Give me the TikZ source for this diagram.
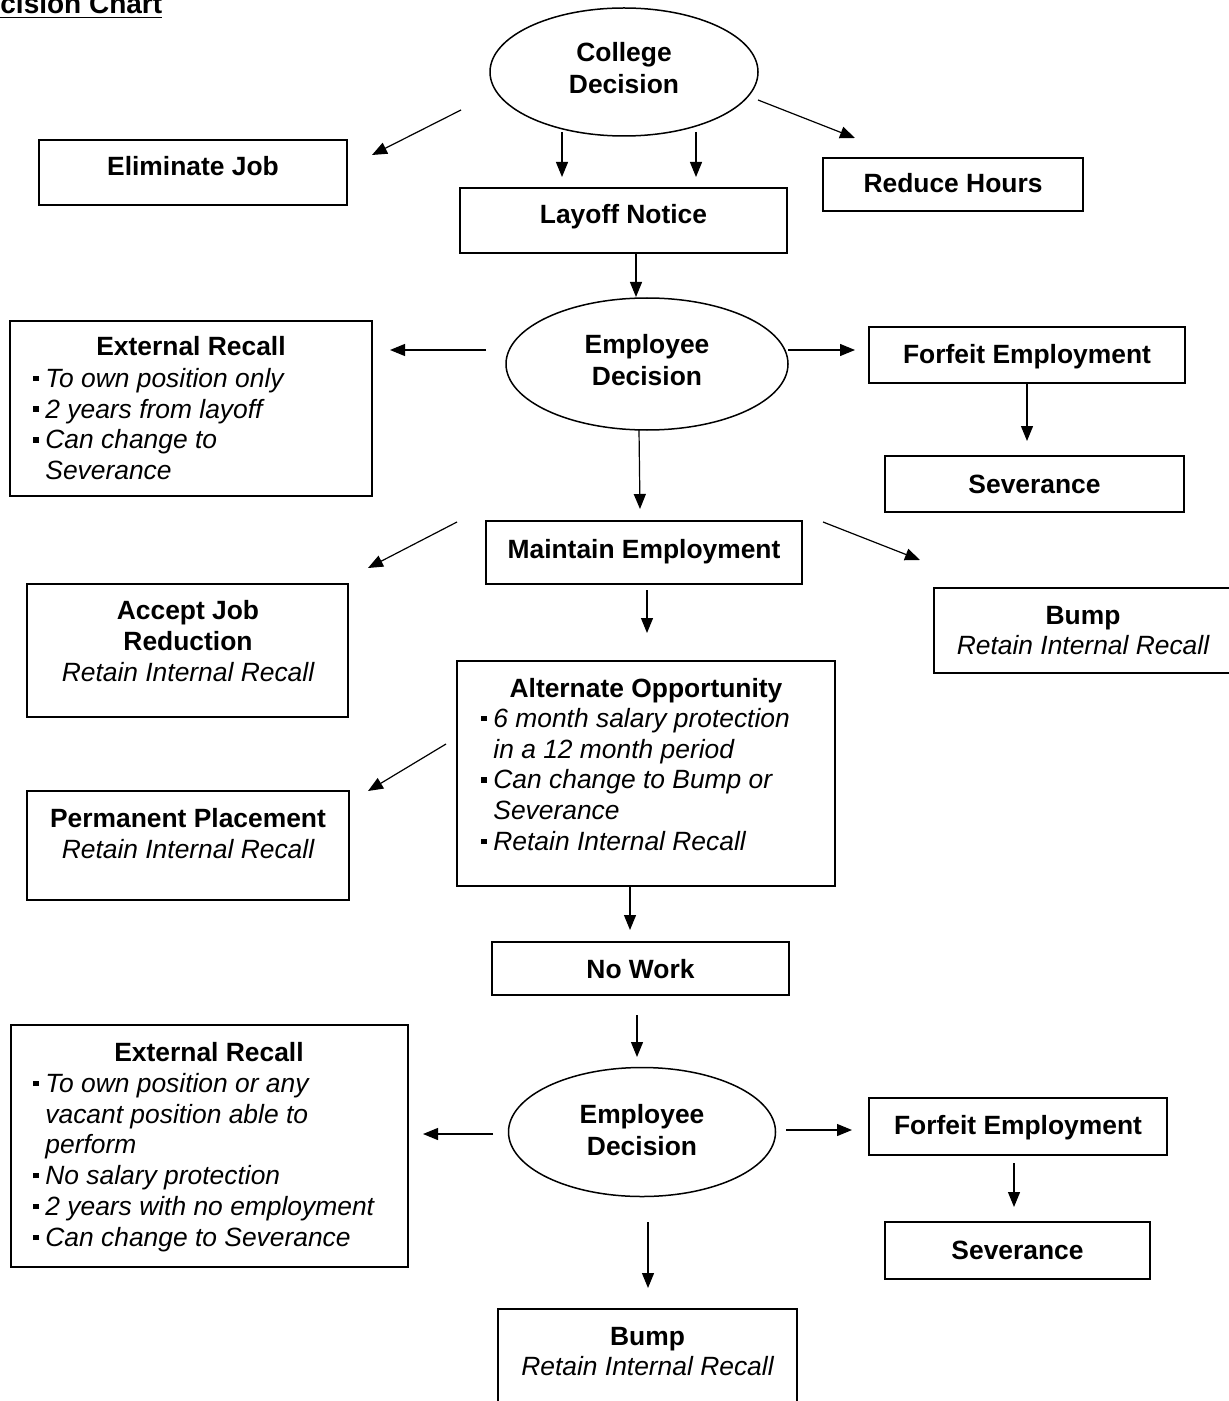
\documentclass[tikz,border=0pt]{standalone}
\usepackage{fontspec}
\setmainfont{Liberation Sans}
\usetikzlibrary{arrows.meta,shapes.geometric}
\newcommand\sqb{\makebox[6pt][l]{\raisebox{0.24em}{\rule{2.7pt}{2.7pt}}}}
\newcommand\contind{\hspace*{6pt}}
\begin{document}
\begin{tikzpicture}[x=0.5pt,y=-0.5pt,
 box/.style={draw, line width=0.75pt, inner sep=0, rectangle},
 oval/.style={draw, ellipse, line width=0.75pt, inner sep=0},
 ovt/.style={inner sep=0, align=center, font=\fontsize{13.2}{15.6}\selectfont\bfseries},
 hd/.style={anchor=base, inner sep=0, font=\fontsize{13.2}{15.4}\selectfont\bfseries},
 itx/.style={anchor=base, inner sep=0, font=\fontsize{13.2}{15.4}\selectfont\itshape},
 lst/.style={anchor=north west, inner sep=0, align=left, font=\fontsize{13.2}{15.4}\selectfont\itshape},
 arr/.style={-{Triangle[length=7.5pt,width=6pt]}, line width=0.6pt}]
\useasboundingbox (0,0) rectangle (1228,1401);

% title
\node[anchor=base west, inner sep=0, font=\fontsize{14}{16}\selectfont\bfseries] (title) at (0,14) {\underline{cision Chart}};

% top level
\node[oval, minimum width=134pt, minimum height=64pt] (college) at (624,72) {};
\node[ovt] (collegeT) at (624,68) {College\\Decision};
\node[box, minimum width=154pt, minimum height=32.5pt] (elim) at (193,172.5) {};
\node[hd] (elimT) at (193,176) {Eliminate Job};
\node[box, minimum width=163.5pt, minimum height=32.5pt] (layoff) at (623.5,220.5) {};
\node[hd] (layoffT) at (623.5,224) {Layoff Notice};
\node[box, minimum width=130pt, minimum height=26.5pt] (reduce) at (953,184.5) {};
\node[hd] (reduceT) at (953,193) {Reduce Hours};

% employee decision 1
\node[oval, minimum width=141pt, minimum height=66pt] (emp1) at (647,364) {};
\node[ovt] (emp1T) at (647,360) {Employee\\Decision};
\node[box, minimum width=181pt, minimum height=87.5pt] (ext1) at (191,408.5) {};
\node[hd] (ext1T) at (191,356) {External Recall};
\node[lst] (ext1L) at (33,365.4) {\strut\sqb To own position only\\\sqb 2 years from layoff\\\sqb Can change to\\\contind Severance};
\node[box, minimum width=158pt, minimum height=28pt] (forf1) at (1027,355) {};
\node[hd] (forf1T) at (1027,364) {Forfeit Employment};
\node[box, minimum width=149.5pt, minimum height=28pt] (sev1) at (1034.5,484) {};
\node[hd] (sev1T) at (1034.5,493) {Severance};

% maintain
\node[box, minimum width=158pt, minimum height=31.5pt] (maint) at (644,552.5) {};
\node[hd] (maintT) at (644,558) {Maintain Employment};
\node[box, minimum width=149pt, minimum height=42.5pt] (bump1) at (1083,630.5) {};
\node[hd] (bump1T) at (1083,624) {Bump};
\node[itx] (bump1S) at (1083,654) {Retain Internal Recall};
\node[box, minimum width=160.5pt, minimum height=66.5pt] (accept) at (187.5,650.5) {};
\node[hd] (acceptT1) at (188,619) {Accept Job};
\node[hd] (acceptT2) at (188,650) {Reduction};
\node[itx] (acceptS) at (188,681) {Retain Internal Recall};

% alternate
\node[box, minimum width=189pt, minimum height=112.5pt] (alt) at (646,773.5) {};
\node[hd] (altT) at (646,697) {Alternate Opportunity};
\node[lst] (altL) at (481,705.4) {\strut\sqb 6 month salary protection\\\contind in a 12 month period\\\sqb Can change to Bump or\\\contind Severance\\\sqb Retain Internal Recall};
\node[box, minimum width=161pt, minimum height=54.5pt] (perm) at (188,845.5) {};
\node[hd] (permT) at (188,827) {Permanent Placement};
\node[itx] (permS) at (188,858) {Retain Internal Recall};

% no work
\node[box, minimum width=148.5pt, minimum height=26.5pt] (nowork) at (640.5,968.5) {};
\node[hd] (noworkT) at (640.5,978) {No Work};

% employee decision 2
\node[oval, minimum width=133.5pt, minimum height=64.5pt] (emp2) at (642,1132) {};
\node[ovt] (emp2T) at (642,1130) {Employee\\Decision};
\node[box, minimum width=198.5pt, minimum height=121pt] (ext2) at (209.5,1146) {};
\node[hd] (ext2T) at (209,1061) {External Recall};
\node[lst] (ext2L) at (33,1070.4) {\strut\sqb To own position or any\\\contind vacant position able to\\\contind perform\\\sqb No salary protection\\\sqb 2 years with no employment\\\sqb Can change to Severance};
\node[box, minimum width=149pt, minimum height=28.5pt] (forf2) at (1018,1126.5) {};
\node[hd] (forf2T) at (1018,1134) {Forfeit Employment};
\node[box, minimum width=132.5pt, minimum height=28.5pt] (sev2) at (1017.5,1250.5) {};
\node[hd] (sev2T) at (1017.5,1259) {Severance};
\node[box, minimum width=149.5pt, minimum height=50.5pt] (bump2) at (647.5,1359.5) {};
\node[hd] (bump2T) at (647.5,1345) {Bump};
\node[itx] (bump2S) at (647.5,1375) {Retain Internal Recall};

% connector end points
\coordinate (c1s) at (461,110);  \coordinate (c1e) at (372,155);
\coordinate (c2s) at (562,132);  \coordinate (c2e) at (562,177);
\coordinate (c3s) at (696,132);  \coordinate (c3e) at (696,177);
\coordinate (c4s) at (758,100);  \coordinate (c4e) at (855,138);
\coordinate (c5s) at (636,253);  \coordinate (c5e) at (636,297);
\coordinate (c6s) at (486,350);  \coordinate (c6e) at (390,350);
\coordinate (c7s) at (788,350);  \coordinate (c7e) at (855,350);
\coordinate (c8s) at (1027,383); \coordinate (c8e) at (1027,441);
\coordinate (c9s) at (639,430);  \coordinate (c9e) at (640,509);
\coordinate (c10s) at (457,522); \coordinate (c10e) at (368,568);
\coordinate (c11s) at (823,522); \coordinate (c11e) at (920,560);
\coordinate (c12s) at (647,590); \coordinate (c12e) at (647,633);
\coordinate (c13s) at (446,744); \coordinate (c13e) at (368,791);
\coordinate (c14s) at (630,886); \coordinate (c14e) at (630,930);
\coordinate (c15s) at (637,1015); \coordinate (c15e) at (637,1057);
\coordinate (c16s) at (493,1134); \coordinate (c16e) at (423,1134);
\coordinate (c17s) at (786,1130); \coordinate (c17e) at (852,1130);
\coordinate (c18s) at (1014,1163); \coordinate (c18e) at (1014,1207);
\coordinate (c19s) at (648,1222); \coordinate (c19e) at (648,1288);

\foreach \i in {1,...,19} {\draw[arr] (c\i s) -- (c\i e);}
\end{tikzpicture}
\end{document}
